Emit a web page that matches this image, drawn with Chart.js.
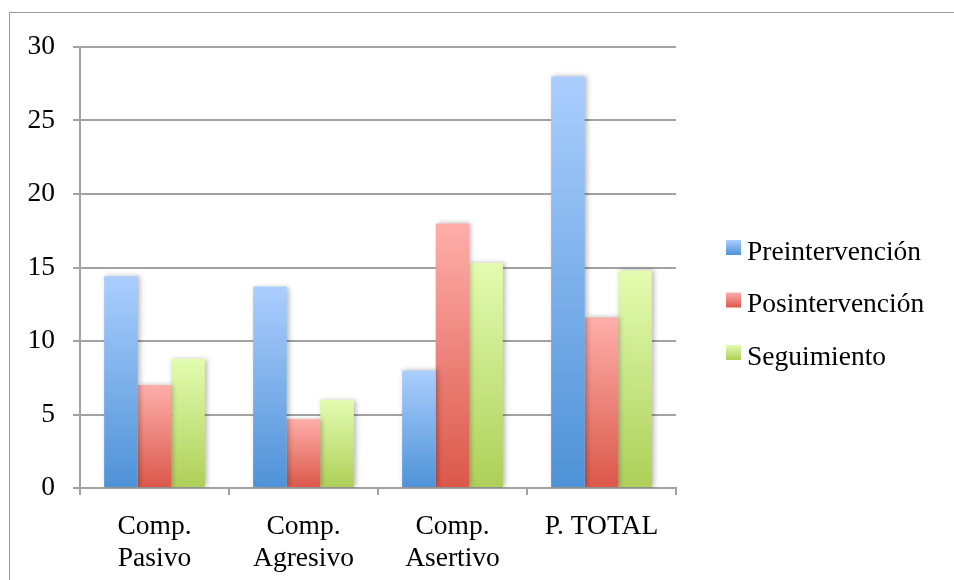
<!DOCTYPE html>
<html>
<head>
<meta charset="utf-8">
<script src="https://cdn.jsdelivr.net/npm/chart.js@4/dist/chart.umd.min.js"></script>
<style>
  html, body { margin: 0; padding: 0; background: #fff; }
  #wrap { position: relative; width: 954px; height: 580px; overflow: hidden; }
  #frame { position: absolute; left: 9px; top: 12px; width: 1000px; height: 600px;
           border-left: 1px solid #9a9a9a; border-top: 1px solid #9a9a9a; }
  canvas { position: absolute; left: 0; top: 0; }
</style>
</head>
<body>
<div id="wrap">
  <div id="frame"></div>
  <canvas id="chart" width="954" height="580"></canvas>
</div>
<script>
// Categories and series
const categories = [["Comp.", "Pasivo"], ["Comp.", "Agresivo"], ["Comp.", "Asertivo"], "P. TOTAL"];
const seriesNames = ["Preintervención", "Posintervención", "Seguimiento"];
const preintervencion = [14.4, 13.7, 8, 28];
const posintervencion = [7, 4.7, 18, 11.6];
const seguimiento = [8.8, 6, 15.3, 14.8];
const yTicks = [0, 5, 10, 15, 20, 25, 30];

// Light-to-dark fills (top, bottom) per series
const fills = [
  ["#abcefe", "#4e92d7"],
  ["#feaeaa", "#db584a"],
  ["#e3fcb0", "#aecf58"]
];

const FONT = "'Liberation Serif', serif";
const FONT_SIZE = 27.5;
const GRID = "#a2a2a2";

// Vertical gradient spanning each bar from its top down to the baseline
function barFill(stops) {
  return (ctx) => {
    const chart = ctx.chart;
    if (!chart.chartArea || ctx.type !== 'data' || !chart.scales.y) return stops[1];
    const y = chart.scales.y;
    const top = y.getPixelForValue(ctx.raw);
    const base = y.getPixelForValue(0);
    if (!isFinite(top) || !isFinite(base) || top === base) return stops[1];
    const g = chart.ctx.createLinearGradient(0, top, 0, base);
    g.addColorStop(0, stops[0]);
    g.addColorStop(1, stops[1]);
    return g;
  };
}

// Soft drop shadow behind the bars
const barShadow = {
  id: 'barShadow',
  beforeDatasetsDraw(chart) {
    const c = chart.ctx;
    c.save();
    c.shadowColor = 'rgba(0,0,0,0.28)';
    c.shadowBlur = 5;
    c.shadowOffsetX = 2;
    c.shadowOffsetY = 0;
  },
  afterDatasetsDraw(chart) {
    chart.ctx.restore();
  }
};

// Legend on the right with gradient swatches
const sideLegend = {
  id: 'sideLegend',
  afterDraw(chart) {
    const c = chart.ctx;
    const x0 = 726, size = 15, textX = 747, firstCenter = 247.5, step = 52.5;
    c.save();
    c.font = FONT_SIZE + "px " + FONT;
    c.textBaseline = 'alphabetic';
    c.textAlign = 'left';
    chart.data.datasets.forEach((ds, i) => {
      const cy = firstCenter + i * step;
      const g = c.createLinearGradient(0, cy - size / 2, 0, cy + size / 2);
      g.addColorStop(0, fills[i][0]);
      g.addColorStop(1, fills[i][1]);
      c.fillStyle = g;
      c.fillRect(x0, cy - size / 2, size, size);
      c.fillStyle = '#000';
      c.fillText(ds.label, textX, cy + 12);
    });
    c.restore();
  }
};

Chart.defaults.font.family = FONT;
Chart.defaults.font.size = FONT_SIZE;
Chart.defaults.color = '#000';

new Chart(document.getElementById('chart'), {
  type: 'bar',
  data: {
    labels: categories,
    datasets: [
      { label: seriesNames[0], data: preintervencion, backgroundColor: barFill(fills[0]) },
      { label: seriesNames[1], data: posintervencion, backgroundColor: barFill(fills[1]) },
      { label: seriesNames[2], data: seguimiento, backgroundColor: barFill(fills[2]) }
    ]
  },
  options: {
    responsive: false,
    animation: false,
    events: [],
    layout: { padding: { top: 47, right: 278, bottom: 0, left: 0 } },
    datasets: {
      bar: { categoryPercentage: 0.676, barPercentage: 1, borderWidth: 0 }
    },
    plugins: {
      legend: { display: false },
      tooltip: { enabled: false }
    },
    scales: {
      x: {
        offset: true,
        grid: { offset: true, drawOnChartArea: false, drawTicks: true, tickLength: 7, color: GRID, lineWidth: 2 },
        border: { color: GRID, width: 2 },
        ticks: { padding: 16, font: { size: FONT_SIZE, lineHeight: 1.15 }, maxRotation: 0, autoSkip: false },
        afterFit(scale) { scale.height = 92; }
      },
      y: {
        min: 0,
        max: 30,
        afterBuildTicks(scale) { scale.ticks = yTicks.map(v => ({ value: v })); },
        grid: { color: GRID, lineWidth: 2, drawTicks: true, tickLength: 7 },
        border: { color: GRID, width: 2 },
        ticks: { padding: 18, font: { size: FONT_SIZE } },
        afterFit(scale) { scale.width = 80; }
      }
    }
  },
  plugins: [barShadow, sideLegend]
});
</script>
</body>
</html>
